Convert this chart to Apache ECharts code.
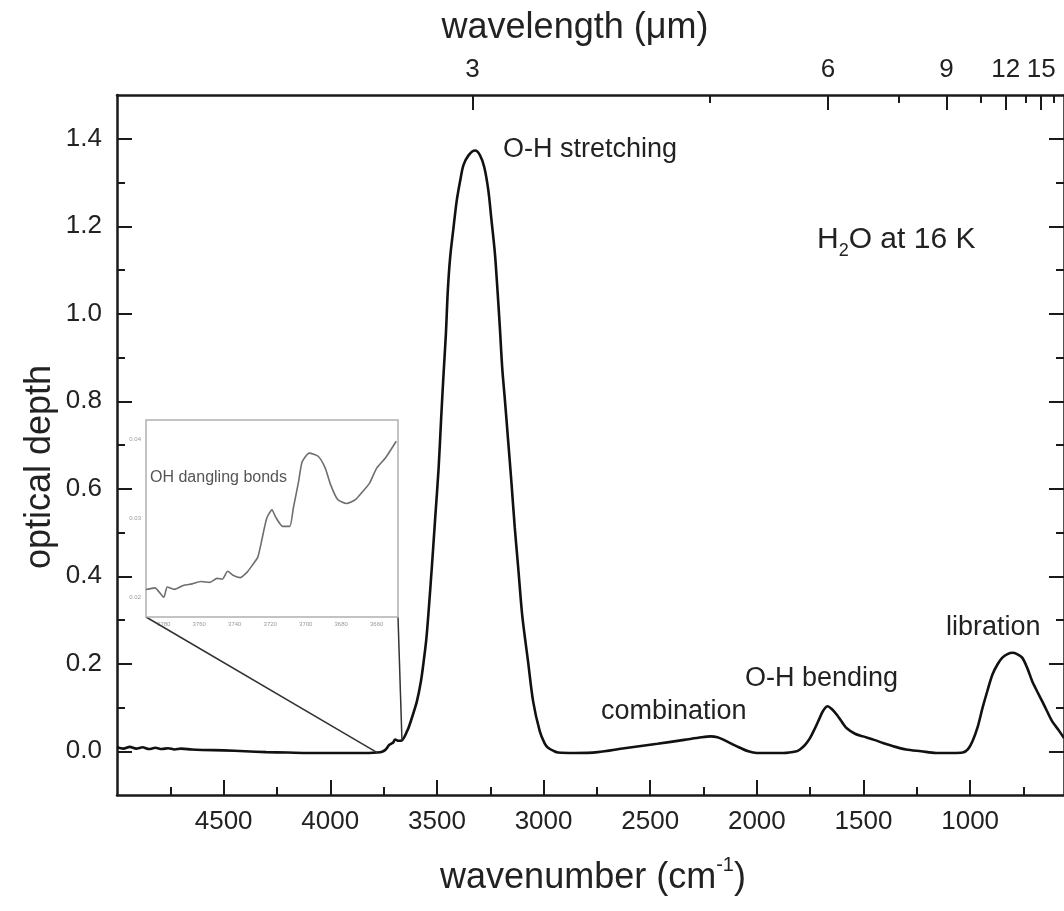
<!DOCTYPE html>
<html>
<head>
<meta charset="utf-8">
<title>H2O ice at 16 K</title>
<script src="https://cdn.jsdelivr.net/npm/echarts@6/dist/echarts.min.js"></script>
<style>
  html, body { margin: 0; padding: 0; background: #fff; }
  #main { width: 1064px; height: 911px; }
</style>
</head>
<body>
<div id="main"></div>
<script>
// spectrum: wavenumber (cm-1) -> optical depth
var wavenumber = [5000, 4970, 4940, 4910, 4880, 4850, 4820, 4790, 4760, 4730, 4700, 4650, 4600, 4500, 4400, 4300, 4200, 4100, 4000, 3900,
  3820, 3780, 3757, 3740, 3725, 3715, 3705, 3696, 3680, 3664, 3650, 3640, 3632, 3615, 3594, 3575, 3562, 3550, 3539, 3524,
  3508, 3492, 3480, 3469, 3458, 3449, 3438, 3422, 3407, 3391, 3376, 3352, 3321, 3298, 3278, 3259, 3244, 3228, 3216, 3205,
  3194, 3181, 3166, 3150, 3135, 3119, 3100, 3073, 3049, 3018, 2995, 2979, 2950, 2932, 2855, 2746, 2621, 2466, 2341, 2260,
  2217, 2185, 2155, 2093, 2040, 2000, 1875, 1813, 1798, 1775, 1751, 1730, 1712, 1690, 1668, 1650, 1626, 1600, 1580, 1540,
  1502, 1450, 1409, 1350, 1300, 1230, 1160, 1080, 1035, 1010, 989, 965, 942, 918, 895, 870, 849, 825, 802, 780,
  756, 732, 709, 685, 662, 640, 616, 582, 560];
var opticalDepth = [0.009, 0.006, 0.010, 0.006, 0.009, 0.005, 0.008, 0.005, 0.007, 0.004, 0.006, 0.004, 0.003, 0.002, 0.000, -0.002, -0.003, -0.004, -0.004, -0.004,
  -0.004, -0.003, -0.001, 0.004, 0.014, 0.017, 0.020, 0.027, 0.024, 0.025, 0.035, 0.046, 0.055, 0.080, 0.114, 0.160, 0.206, 0.255, 0.320, 0.420,
  0.534, 0.648, 0.763, 0.862, 0.954, 1.053, 1.129, 1.198, 1.259, 1.304, 1.339, 1.362, 1.373, 1.362, 1.335, 1.282, 1.213, 1.137, 1.053, 0.969,
  0.877, 0.801, 0.709, 0.610, 0.511, 0.420, 0.310, 0.206, 0.114, 0.046, 0.018, 0.008, 0.000, -0.003, -0.004, -0.002, 0.007, 0.017, 0.026, 0.032,
  0.034, 0.032, 0.026, 0.011, 0.000, -0.004, -0.004, 0.000, 0.004, 0.014, 0.030, 0.050, 0.069, 0.092, 0.103, 0.097, 0.084, 0.066, 0.053, 0.040,
  0.034, 0.026, 0.019, 0.010, 0.004, 0.000, -0.004, -0.004, -0.003, 0.005, 0.023, 0.055, 0.099, 0.140, 0.176, 0.200, 0.214, 0.222, 0.225, 0.222,
  0.214, 0.190, 0.160, 0.136, 0.114, 0.092, 0.069, 0.046, 0.030];

// inset: OH dangling bonds
var insetWavenumber = [3790, 3785, 3780, 3778, 3774, 3769, 3764, 3759, 3754, 3750, 3747, 3744, 3741, 3737, 3733, 3730, 3727, 3725, 3722, 3719,
  3717, 3713, 3709, 3707, 3704, 3702, 3698, 3693, 3689, 3686, 3682, 3677, 3672, 3668, 3664, 3660, 3655, 3649];
var insetDepth = [0.0210, 0.0212, 0.0200, 0.0213, 0.0210, 0.0215, 0.0217, 0.0220, 0.0219, 0.0224, 0.0223, 0.0233, 0.0228, 0.0225, 0.0232, 0.0241, 0.0251, 0.0270, 0.0300, 0.0311,
  0.0302, 0.0290, 0.0290, 0.0313, 0.0347, 0.0372, 0.0383, 0.0379, 0.0364, 0.0343, 0.0324, 0.0319, 0.0324, 0.0334, 0.0345, 0.0364, 0.0377, 0.0398];

// ticks
var wnTicks = [4500, 4000, 3500, 3000, 2500, 2000, 1500, 1000];
var wnMinorTicks = [4750, 4250, 3750, 3250, 2750, 2250, 1750, 1250, 750];
var wlTicks = [3, 6, 9, 12, 15];
var wlMinorTicks = [4.5, 7.5, 10.5, 13.5, 16.5];
var odTicks = [0, 0.2, 0.4, 0.6, 0.8, 1.0, 1.2, 1.4];
var odMinorTicks = [0.1, 0.3, 0.5, 0.7, 0.9, 1.1, 1.3];
var insetWnLabels = [3780, 3760, 3740, 3720, 3700, 3680, 3660];
var insetWnTicks = [3780, 3770, 3760, 3750, 3740, 3730, 3720, 3710, 3700, 3690, 3680, 3670, 3660, 3650];
var insetOdLabels = [0.02, 0.03, 0.04];
var insetOdTicks = [0.02, 0.025, 0.03, 0.035, 0.04];

var FONT = '"Liberation Sans", Arial, sans-serif';
var INK = '#1a1a1a';

var chart = echarts.init(document.getElementById('main'));

function tickAxis(opt) {
  // shared look for the frame axes
  return Object.assign({
    type: 'value',
    splitLine: { show: false },
    axisLine: { show: false, onZero: false },
    axisLabel: { show: false },
    axisTick: { show: false }
  }, opt);
}

function plain(v) { return String(v); }

var xRange = { min: 560, max: 5000, inverse: true };
var yRange = { min: -0.1, max: 1.5 };
var ixRange = { min: 3648, max: 3790, inverse: true };
var iyRange = { min: 0.0175, max: 0.0425 };

var frameLine = { show: true, onZero: false, lineStyle: { color: INK, width: 2.5 } };
var insetTickStyle = { color: '#999', width: 1 };

chart.setOption({
  animation: false,
  backgroundColor: '#fff',
  grid: [
    { left: 117, top: 95, width: 952, height: 700 },
    { left: 146, top: 420, width: 252, height: 197, show: true, borderColor: '#b0b0b0', borderWidth: 1.5, backgroundColor: '#fff', z: 5 }
  ],
  xAxis: [
    tickAxis(Object.assign({
      gridIndex: 0, position: 'bottom', axisLine: frameLine,
      axisTick: { show: true, inside: true, length: 15, customValues: wnTicks, lineStyle: { color: INK, width: 2 } },
      axisLabel: { show: true, customValues: wnTicks, margin: 14, fontSize: 26, fontFamily: FONT, color: '#222', formatter: plain }
    }, xRange)),
    tickAxis(Object.assign({
      gridIndex: 0, position: 'bottom',
      axisTick: { show: true, inside: true, length: 8, customValues: wnMinorTicks, lineStyle: { color: INK, width: 2 } }
    }, xRange)),
    tickAxis(Object.assign({
      gridIndex: 0, position: 'top', axisLine: frameLine,
      axisTick: { show: true, inside: true, length: 15, customValues: wlTicks.map(function (l) { return 10000 / l; }), lineStyle: { color: INK, width: 2 } },
      axisLabel: {
        show: true, customValues: wlTicks.map(function (l) { return 10000 / l; }), margin: 12, fontSize: 26, fontFamily: FONT, color: '#222',
        formatter: function (v) { return String(Math.round(10000 / v)); }
      }
    }, xRange)),
    tickAxis(Object.assign({
      gridIndex: 0, position: 'top',
      axisTick: { show: true, inside: true, length: 8, customValues: wlMinorTicks.map(function (l) { return 10000 / l; }), lineStyle: { color: INK, width: 2 } }
    }, xRange)),
    tickAxis(Object.assign({
      gridIndex: 1, position: 'bottom',
      axisTick: { show: true, inside: true, length: 4, customValues: insetWnTicks, lineStyle: insetTickStyle },
      axisLabel: { show: true, customValues: insetWnLabels, margin: 4, fontSize: 6, fontFamily: FONT, color: '#999', formatter: plain }
    }, ixRange)),
    tickAxis(Object.assign({
      gridIndex: 1, position: 'top',
      axisTick: { show: true, inside: true, length: 4, customValues: insetWnTicks, lineStyle: insetTickStyle }
    }, ixRange))
  ],
  yAxis: [
    tickAxis(Object.assign({
      gridIndex: 0, position: 'left', axisLine: frameLine,
      axisTick: { show: true, inside: true, length: 15, customValues: odTicks, lineStyle: { color: INK, width: 2 } },
      axisLabel: {
        show: true, customValues: odTicks, margin: 15, fontSize: 26, fontFamily: FONT, color: '#222',
        formatter: function (v) { return v.toFixed(1); }
      }
    }, yRange)),
    tickAxis(Object.assign({
      gridIndex: 0, position: 'left',
      axisTick: { show: true, inside: true, length: 8, customValues: odMinorTicks, lineStyle: { color: INK, width: 2 } }
    }, yRange)),
    tickAxis(Object.assign({
      gridIndex: 0, position: 'right', axisLine: frameLine,
      axisTick: { show: true, inside: true, length: 15, customValues: odTicks, lineStyle: { color: INK, width: 2 } }
    }, yRange)),
    tickAxis(Object.assign({
      gridIndex: 0, position: 'right',
      axisTick: { show: true, inside: true, length: 8, customValues: odMinorTicks, lineStyle: { color: INK, width: 2 } }
    }, yRange)),
    tickAxis(Object.assign({
      gridIndex: 1, position: 'left',
      axisTick: { show: true, inside: true, length: 4, customValues: insetOdTicks, lineStyle: insetTickStyle },
      axisLabel: {
        show: true, customValues: insetOdLabels, margin: 5, fontSize: 6, fontFamily: FONT, color: '#999',
        formatter: function (v) { return v.toFixed(2); }
      }
    }, iyRange)),
    tickAxis(Object.assign({
      gridIndex: 1, position: 'right',
      axisTick: { show: true, inside: true, length: 4, customValues: insetOdTicks, lineStyle: insetTickStyle }
    }, iyRange))
  ],
  series: [
    {
      name: 'H2O 16 K',
      type: 'line',
      xAxisIndex: 0, yAxisIndex: 0,
      data: wavenumber.map(function (w, i) { return [w, opticalDepth[i]]; }),
      smooth: 0.3,
      showSymbol: false,
      lineStyle: { color: '#111', width: 2.6 },
      z: 3
    },
    {
      name: 'OH dangling bonds',
      type: 'line',
      xAxisIndex: 4, yAxisIndex: 4,
      data: insetWavenumber.map(function (w, i) { return [w, insetDepth[i]]; }),
      smooth: 0.2,
      showSymbol: false,
      lineStyle: { color: '#6e6e6e', width: 1.6 },
      z: 6
    }
  ]
});

// connector lines from the inset corners down to the zoomed stretch of the main curve
function nearestIndex(arr, target) {
  var best = 0;
  for (var i = 1; i < arr.length; i++) {
    if (Math.abs(arr[i] - target) < Math.abs(arr[best] - target)) best = i;
  }
  return best;
}
var insetFinder = { xAxisIndex: 4, yAxisIndex: 4 };
var mainFinder = { xAxisIndex: 0, yAxisIndex: 0 };
var cornerL = chart.convertToPixel(insetFinder, [ixRange.max, iyRange.min]);
var cornerR = chart.convertToPixel(insetFinder, [ixRange.min, iyRange.min]);
var iL = nearestIndex(wavenumber, ixRange.max);
var iR = nearestIndex(wavenumber, 3664);
var endL = chart.convertToPixel(mainFinder, [wavenumber[iL], opticalDepth[iL]]);
var endR = chart.convertToPixel(mainFinder, [wavenumber[iR], opticalDepth[iR]]);

function label(text, x, y, size, color) {
  return {
    type: 'text', x: x, y: y, z: 10,
    style: {
      text: text, fill: color || '#222', font: size + 'px ' + FONT,
      textAlign: 'left', textVerticalAlign: 'middle'
    }
  };
}

chart.setOption({
  graphic: [
    { type: 'line', z: 4, shape: { x1: cornerL[0], y1: cornerL[1], x2: endL[0], y2: endL[1] }, style: { stroke: '#333', lineWidth: 1.5 } },
    { type: 'line', z: 4, shape: { x1: cornerR[0], y1: cornerR[1], x2: endR[0], y2: endR[1] }, style: { stroke: '#333', lineWidth: 1.5 } },
    label('O-H stretching', 503, 150, 27),
    label('combination', 601, 712, 27),
    label('O-H bending', 745, 679, 27),
    label('libration', 946, 628, 27),
    label('OH dangling bonds', 150, 478, 16, '#555'),
    {
      type: 'text', x: 817, y: 240, z: 10,
      style: {
        text: 'H{sub|2}O at 16 K', fill: '#222', font: '30px ' + FONT,
        textAlign: 'left', textVerticalAlign: 'middle', lineHeight: 40,
        rich: { sub: { fontSize: 18, fontFamily: FONT, fill: '#222', verticalAlign: 'bottom', lineHeight: 40 } }
      }
    },
    {
      type: 'text', x: 575, y: 28, z: 10,
      style: { text: 'wavelength (\u03bcm)', fill: '#222', font: '36px ' + FONT, textAlign: 'center', textVerticalAlign: 'middle' }
    },
    {
      type: 'text', x: 593, y: 878, z: 10,
      style: {
        text: 'wavenumber (cm{sup|-1})', fill: '#222', font: '36px ' + FONT,
        textAlign: 'center', textVerticalAlign: 'middle', lineHeight: 46,
        rich: { sup: { fontSize: 20, fontFamily: FONT, fill: '#222', verticalAlign: 'top', lineHeight: 46 } }
      }
    },
    {
      type: 'text', x: 40, y: 467, z: 10, rotation: Math.PI / 2,
      style: { text: 'optical depth', fill: '#222', font: '36px ' + FONT, textAlign: 'center', textVerticalAlign: 'middle' }
    }
  ]
});
</script>
</body>
</html>
